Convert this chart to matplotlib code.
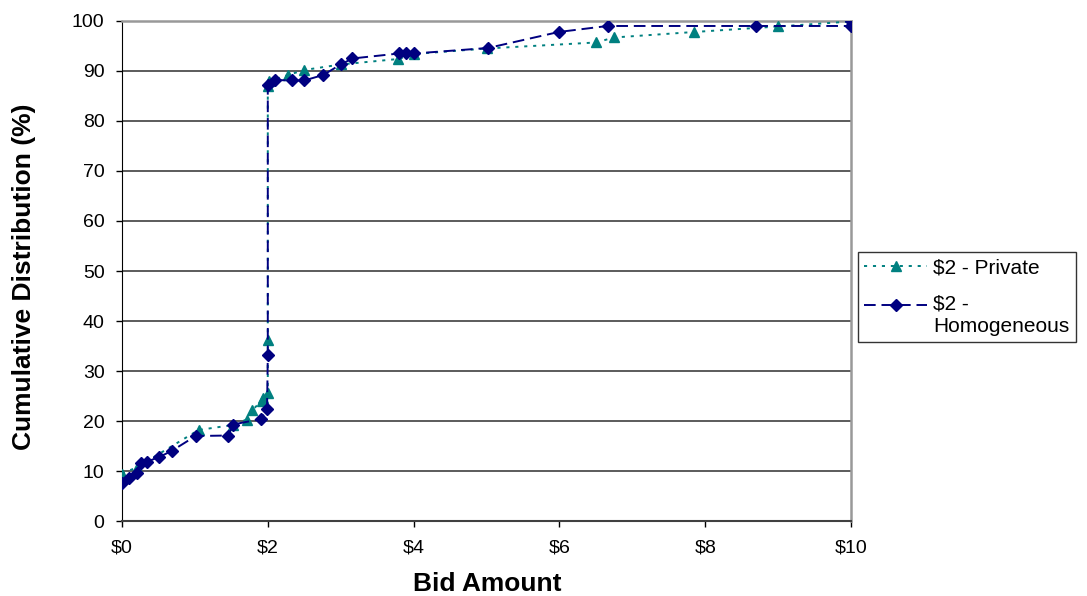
import matplotlib
matplotlib.use("Agg")
import matplotlib.pyplot as plt
import numpy as np

plt.rcParams['font.family'] = ['Liberation Sans', 'DejaVu Sans']

# $2 - Private (triangles)
priv_x = [0.0, 0.2, 1.05, 1.52, 1.71, 1.79, 1.92, 1.94, 2.0, 2.0, 2.0, 2.02,
          2.28, 2.5, 3.0, 3.79, 4.01, 5.0, 6.5, 6.75, 7.85, 9.0, 10.0]
priv_y = [9.5, 10.7, 18.2, 19.2, 20.3, 22.2, 24.1, 24.7, 25.7, 36.2, 87.0, 88.0,
          89.2, 90.2, 91.3, 92.4, 93.4, 94.5, 95.7, 96.7, 97.8, 98.9, 99.9]

# $2 - Homogeneous (diamonds)
homo_x = [0.0, 0.1, 0.21, 0.26, 0.35, 0.51, 0.68, 1.01, 1.46, 1.52, 1.91, 1.99,
          2.0, 2.0, 2.1, 2.33, 2.5, 2.76, 3.0, 3.16, 3.8, 3.9, 4.01, 5.02,
          5.99, 6.66, 8.69, 10.0, 10.0]
homo_y = [7.6, 8.6, 9.7, 11.7, 11.9, 12.8, 14.0, 17.0, 17.1, 19.3, 20.4, 22.5,
          33.3, 87.2, 88.2, 88.1, 88.1, 89.2, 91.3, 92.5, 93.5, 93.5, 93.5, 94.6,
          97.8, 99.0, 99.0, 99.0, 100.0]

x_ticks = [0, 2, 4, 6, 8, 10]
x_labels = ['\\$0', '\\$2', '\\$4', '\\$6', '\\$8', '\\$10']

teal = '#008080'
navy = '#000080'

fig = plt.figure(figsize=(10.87, 5.96), dpi=100)
ax = fig.add_axes([0.1122, 0.1258, 0.6708, 0.839])

ax.plot(priv_x, priv_y, linestyle=(0, (1.6, 3)), color=teal, lw=1.4,
        marker='^', markersize=7.5, label='\\$2 - Private', zorder=3)
ax.plot(homo_x, homo_y, linestyle=(0, (6, 3)), color=navy, lw=1.4,
        marker='D', markersize=6.5, label='\\$2 -\nHomogeneous', zorder=4)

ax.set_xlim(0, 10)
ax.set_ylim(0, 100)
ax.set_xticks(x_ticks)
ax.set_xticklabels(x_labels)
ax.set_yticks(range(0, 101, 10))
ax.tick_params(labelsize=14, length=4.5, direction='out', width=1)
ax.tick_params(axis='x', pad=9)
ax.tick_params(axis='y', pad=8)
ax.yaxis.grid(True, color='#404040', lw=1.2)
ax.set_axisbelow(True)

for s in ['top', 'right']:
    ax.spines[s].set_color('#999999')
    ax.spines[s].set_linewidth(1.8)
ax.spines['left'].set_color('black')
ax.spines['bottom'].set_color('#404040')
ax.spines['bottom'].set_linewidth(1.5)

ax.set_xlabel('Bid Amount', fontsize=19, fontweight='bold')
ax.set_ylabel('Cumulative Distribution (%)', fontsize=19, fontweight='bold')
ax.xaxis.set_label_coords(0.501, -0.101)
ax.yaxis.set_label_coords(-0.118, 0.488)

leg = ax.legend(loc='upper left', bbox_to_anchor=(1.0096, 0.538), borderaxespad=0,
                fontsize=15, frameon=True, fancybox=False, edgecolor='black',
                handlelength=3.0, handletextpad=0.3, labelspacing=0.85,
                borderpad=0.3)
leg.get_frame().set_linewidth(1)
# put the second marker next to the first line of its two-line label
h = leg.legend_handles[1]
h.set_ydata(np.asarray(h.get_ydata()) + 8.0)

fig.savefig('out.png', dpi=100)
